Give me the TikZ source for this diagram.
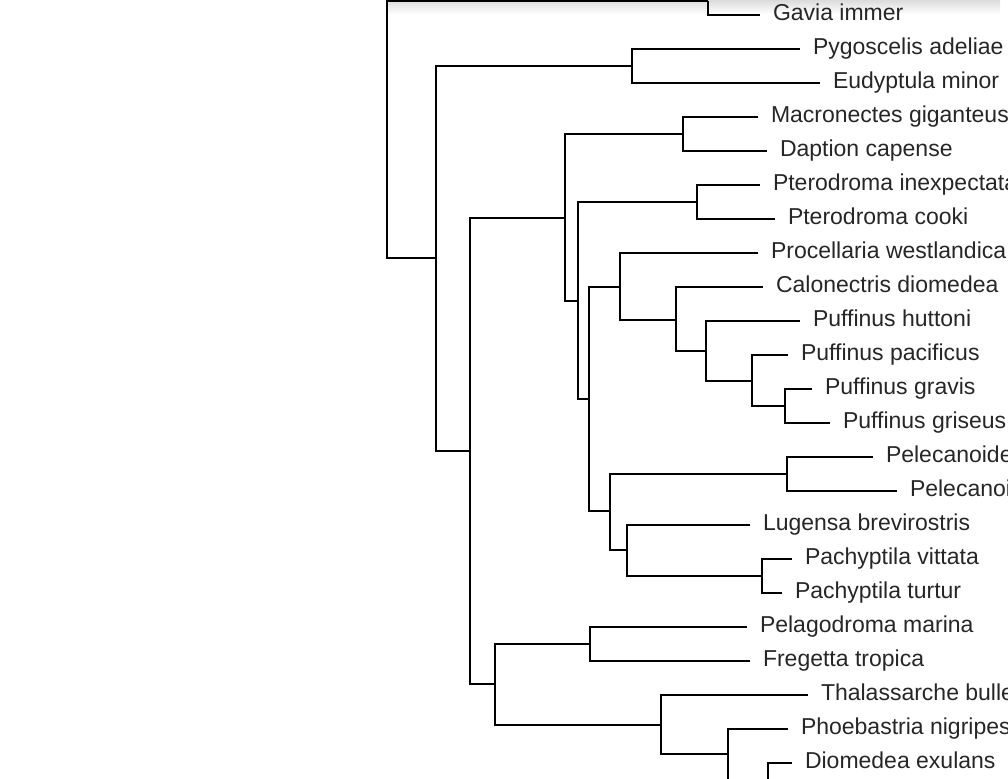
\documentclass[tikz,border=0pt]{standalone}
\usepackage{fontspec}
\setmainfont{Liberation Sans}
\begin{document}
\begin{tikzpicture}[x=0.5pt,y=-0.5pt,
  branch/.style={line width=1.2pt, black},
  taxon/.style={anchor=west, inner xsep=6.5pt, outer sep=0pt,
    text height=0.72em, text depth=0.21em,
    font=\fontsize{11.5}{13}\selectfont, text=black!85}]
  \useasboundingbox (0,0) rectangle (1008,779);

  %% shadow along the top edge
  \shade[top color=black!14, bottom color=white] (387,0) rectangle (1000,14);

  %% inner nodes
  \coordinate (root) at (387,129);
  \coordinate (outgrp) at (708,1);
  \coordinate (n1) at (436,258);
  \coordinate (penguin) at (632,66);
  \coordinate (n2) at (470,451);
  \coordinate (n3) at (565,218);
  \coordinate (fulmar) at (683,134);
  \coordinate (n5) at (578,301);
  \coordinate (ptero) at (697,202);
  \coordinate (n6) at (589,399);
  \coordinate (n7) at (620,287);
  \coordinate (n9) at (676,320);
  \coordinate (n10) at (706,351);
  \coordinate (n11) at (752,381);
  \coordinate (n12) at (785,406);
  \coordinate (n8) at (610,511);
  \coordinate (pelec) at (787,474);
  \coordinate (n13) at (627,550);
  \coordinate (pachy) at (762,576);
  \coordinate (n4) at (495,684);
  \coordinate (ocean) at (590,644);
  \coordinate (alb) at (661,725);
  \coordinate (alb2) at (728,754);
  \coordinate (alb3) at (768,780);

  %% taxa
  \node[taxon] (gavia) at (760,15) {Gavia immer};
  \node[taxon] (pygoscelis) at (800,49) {Pygoscelis adeliae};
  \node[taxon] (eudyptula) at (820,83) {Eudyptula minor};
  \node[taxon] (macronectes) at (758,117) {Macronectes giganteus};
  \node[taxon] (daption) at (767,151) {Daption capense};
  \node[taxon] (ptinexp) at (760,185) {Pterodroma inexpectata};
  \node[taxon] (ptcooki) at (775,219) {Pterodroma cooki};
  \node[taxon] (procellaria) at (758,253) {Procellaria westlandica};
  \node[taxon] (calonectris) at (763,287) {Calonectris diomedea};
  \node[taxon] (pfhuttoni) at (800,321) {Puffinus huttoni};
  \node[taxon] (pfpacificus) at (788,355) {Puffinus pacificus};
  \node[taxon] (pfgravis) at (812,389) {Puffinus gravis};
  \node[taxon] (pfgriseus) at (830,423) {Puffinus griseus};
  \node[taxon] (pelecA) at (873,457) {Pelecanoides urinatrix};
  \node[taxon] (pelecB) at (897,491) {Pelecanoides georgicus};
  \node[taxon] (lugensa) at (750,525) {Lugensa brevirostris};
  \node[taxon] (pcvittata) at (792,559) {Pachyptila vittata};
  \node[taxon] (pcturtur) at (782,593) {Pachyptila turtur};
  \node[taxon] (pelagodroma) at (747,627) {Pelagodroma marina};
  \node[taxon] (fregetta) at (750,661) {Fregetta tropica};
  \node[taxon] (thalassarche) at (808,695) {Thalassarche bulleri};
  \node[taxon] (phoebastria) at (788,729) {Phoebastria nigripes};
  \node[taxon] (diomedea) at (792,763) {Diomedea exulans};

  %% branches
  \draw[branch] (root) |- (outgrp);
  \draw[branch] (root) |- (n1);
  \draw[branch] (outgrp) |- (gavia.west);
  \draw[branch] (n1) |- (penguin);
  \draw[branch] (n1) |- (n2);
  \draw[branch] (penguin) |- (pygoscelis.west);
  \draw[branch] (penguin) |- (eudyptula.west);
  \draw[branch] (n2) |- (n3);
  \draw[branch] (n2) |- (n4);
  \draw[branch] (n3) |- (fulmar);
  \draw[branch] (n3) |- (n5);
  \draw[branch] (fulmar) |- (macronectes.west);
  \draw[branch] (fulmar) |- (daption.west);
  \draw[branch] (n5) |- (ptero);
  \draw[branch] (n5) |- (n6);
  \draw[branch] (ptero) |- (ptinexp.west);
  \draw[branch] (ptero) |- (ptcooki.west);
  \draw[branch] (n6) |- (n7);
  \draw[branch] (n6) |- (n8);
  \draw[branch] (n7) |- (procellaria.west);
  \draw[branch] (n7) |- (n9);
  \draw[branch] (n9) |- (calonectris.west);
  \draw[branch] (n9) |- (n10);
  \draw[branch] (n10) |- (pfhuttoni.west);
  \draw[branch] (n10) |- (n11);
  \draw[branch] (n11) |- (pfpacificus.west);
  \draw[branch] (n11) |- (n12);
  \draw[branch] (n12) |- (pfgravis.west);
  \draw[branch] (n12) |- (pfgriseus.west);
  \draw[branch] (n8) |- (pelec);
  \draw[branch] (n8) |- (n13);
  \draw[branch] (pelec) |- (pelecA.west);
  \draw[branch] (pelec) |- (pelecB.west);
  \draw[branch] (n13) |- (lugensa.west);
  \draw[branch] (n13) |- (pachy);
  \draw[branch] (pachy) |- (pcvittata.west);
  \draw[branch] (pachy) |- (pcturtur.west);
  \draw[branch] (n4) |- (ocean);
  \draw[branch] (n4) |- (alb);
  \draw[branch] (ocean) |- (pelagodroma.west);
  \draw[branch] (ocean) |- (fregetta.west);
  \draw[branch] (alb) |- (thalassarche.west);
  \draw[branch] (alb) |- (alb2);
  \draw[branch] (alb2) |- (phoebastria.west);
  \draw[branch] (alb2) |- (alb3);
  \draw[branch] (alb3) |- (diomedea.west);

\end{tikzpicture}
\end{document}
